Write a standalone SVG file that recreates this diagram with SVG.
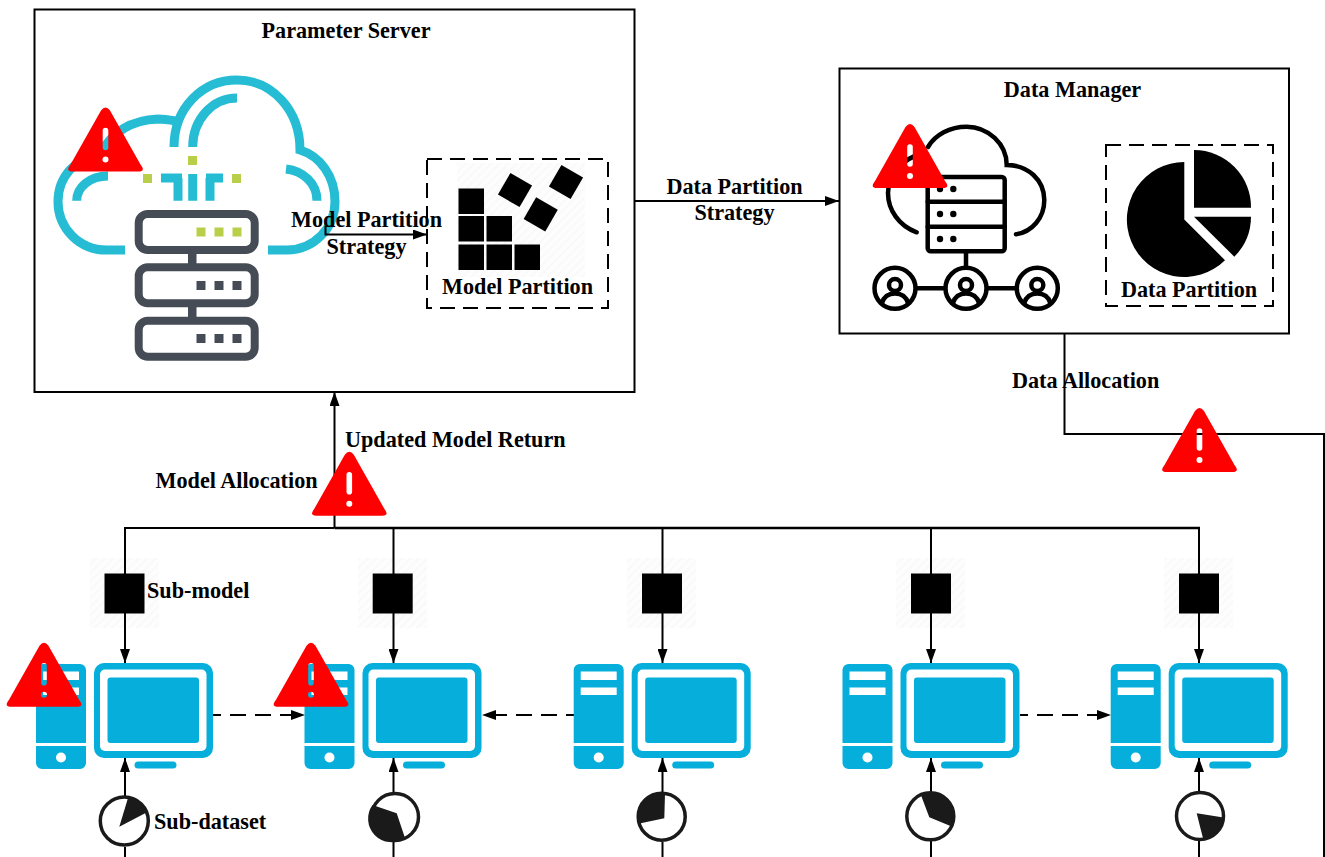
<svg xmlns="http://www.w3.org/2000/svg" xmlns:xlink="http://www.w3.org/1999/xlink" width="1325" height="857" viewBox="0 0 1325 857">
<style>
text{font-family:"Liberation Serif","Times New Roman",serif;font-weight:700;font-size:22.200px;fill:#000}
.mid{text-anchor:middle}
.box{fill:#fff;stroke:#000;stroke-width:2}
.dash{fill:none;stroke:#000;stroke-width:2;stroke-dasharray:15 8}
.line{fill:none;stroke:#000;stroke-width:2}
.teal{fill:none;stroke:#25bcd4;stroke-width:9}
.srv{fill:#fff;stroke:#454c55;stroke-width:8}
.dark{fill:#454c55}
.green{fill:#b9cf4a}
.k{fill:none;stroke:#000;stroke-width:4.500;stroke-linecap:round}
.warn{fill:#f00;fill-rule:evenodd}
.blue{fill:#05aedb}
.wh{fill:#fff}
.sq{fill:#000}
.hatch{fill:url(#h)}
.disc{fill:#fff;stroke:#1a1a1a;stroke-width:3.500}
.pie{fill:#1a1a1a}
</style>
<defs>
<marker id="a" markerUnits="userSpaceOnUse" markerWidth="14" markerHeight="10" refX="14" refY="5" orient="auto"><path d="M0,0L14,5L0,10z" fill="#000"/></marker>
<pattern id="h" width="6" height="6" patternUnits="userSpaceOnUse" patternTransform="rotate(45)"><rect width="6" height="6" fill="#fdfdfd"/><rect width="2" height="6" fill="#f9f9f9"/></pattern>
<path id="w" d="M-4.500,3Q0,-3 4.500,3L35,57Q40.500,64 33,64L-33,64Q-40.500,64 -35,57ZM-2.800,23a2.800,2.800 0 0 1 5.600,0v17a2.800,2.800 0 0 1 -5.600,0ZM-3,52a3,3 0 1 0 6,0a3,3 0 1 0 -6,0Z"/>
<g id="pc">
<path class="blue" d="M42,664H80a6,6 0 0 1 6,6V743H36V670a6,6 0 0 1 6,-6ZM36,746H86V763a6,6 0 0 1 -6,6H42a6,6 0 0 1 -6,-6Z"/>
<rect class="wh" x="43" y="671.500" width="36" height="8.500"/>
<rect class="wh" x="43" y="687.500" width="36" height="7.500"/>
<circle class="wh" cx="61" cy="757.500" r="5"/>
<rect class="blue" x="94" y="663" width="119" height="95" rx="10"/>
<rect class="wh" x="100" y="669.500" width="106.500" height="81.500" rx="5"/>
<rect class="blue" x="107.500" y="677.500" width="91.500" height="65.500" rx="3"/>
<rect class="blue" x="134.500" y="761.500" width="42" height="7" rx="3.500"/>
</g>
</defs>
<rect width="1325" height="857" fill="#fff"/>

<g id="parameter-server">
<rect class="box" x="34.500" y="9.500" width="600" height="382.500"/>
<text class="mid" x="346" y="38">Parameter Server</text>
<path class="teal" d="M125,250H106.700C79,250 58,228 58,201.700C58,176 76,158 100,154C112,132 132,120 158,119C164,119 170,120 176,121"/>
<path class="teal" d="M174,147C174,108 202,80 237,80C272,80 300,110 300,150C320,156 335,176 335,201.700C335,228 314,250 287,250H268"/>
<path class="teal" d="M192.700,147C192.700,120 212,98 237,98M76.700,200.700C76.700,187 90,176 108,176M286,169C303,171 317,183 317,200.700"/>
<path class="teal" d="M161,178H182M178,178V200.700M192.700,174V200.700M206,178H223M210,178V200.700"/>
<rect class="green" x="188" y="156" width="9" height="9"/>
<rect class="green" x="143" y="174" width="9" height="9"/>
<rect class="green" x="232" y="174" width="9" height="9"/>
<rect class="dark" x="188" y="250" width="8.500" height="17"/>
<rect class="dark" x="188" y="303" width="8.500" height="17"/>
<rect class="srv" x="138.700" y="214" width="116" height="36" rx="9"/>
<rect class="srv" x="138.700" y="267.300" width="116" height="36" rx="9"/>
<rect class="srv" x="138.700" y="320.700" width="116" height="36" rx="9"/>
<rect class="green" x="196.500" y="227.500" width="9" height="9"/><rect class="green" x="214.500" y="227.500" width="9" height="9"/><rect class="green" x="232.500" y="227.500" width="9" height="9"/>
<rect class="dark" x="196.500" y="281" width="9" height="9"/><rect class="dark" x="214.500" y="281" width="9" height="9"/><rect class="dark" x="232.500" y="281" width="9" height="9"/>
<rect class="dark" x="196.500" y="334" width="9" height="9"/><rect class="dark" x="214.500" y="334" width="9" height="9"/><rect class="dark" x="232.500" y="334" width="9" height="9"/>
</g>

<g id="model-partition">
<rect class="dash" x="427" y="159" width="181" height="149"/>
<rect class="hatch" x="457" y="163" width="128" height="114"/>
<rect class="sq" x="458.500" y="188.500" width="25.500" height="25.500"/>
<rect class="sq" x="458.500" y="216" width="25.500" height="25.500"/>
<rect class="sq" x="486.500" y="216" width="25.500" height="25.500"/>
<rect class="sq" x="458.500" y="244.500" width="25.500" height="25.500"/>
<rect class="sq" x="486.500" y="244.500" width="25.500" height="25.500"/>
<rect class="sq" x="514.500" y="244.500" width="25.500" height="25.500"/>
<rect class="sq" x="-12.500" y="-12.500" width="25" height="25" transform="translate(515 190) rotate(30)"/>
<rect class="sq" x="-12.500" y="-12.500" width="25" height="25" transform="translate(566 182) rotate(30)"/>
<rect class="sq" x="-12.500" y="-12.500" width="25" height="25" transform="translate(540.700 214.300) rotate(30)"/>
<text class="mid" x="517.500" y="293.500">Model Partition</text>
</g>

<g id="data-manager">
<rect class="box" x="839.500" y="68.500" width="449.500" height="265"/>
<text class="mid" x="1072.500" y="97">Data Manager</text>
<path class="k" d="M916.700,232.300C899,226 888,210 888,193C888,174 900,160 925,152"/>
<path class="k" d="M928,147C935,135 950,126.700 966.700,126.700C988,126.700 1006.700,144 1006.700,165C1028,165 1044.300,180 1044.300,200C1044.300,218 1032,232 1016,234.300"/>
<rect class="k" x="927.700" y="177" width="77" height="74.300" rx="3"/>
<path class="k" d="M927.700,201.700H1004.700M927.700,226.700H1004.700M966,253V267M917,288.300H944M988,288.300H1015"/>
<g fill="#000">
<circle cx="940" cy="189" r="3.200"/><circle cx="953.300" cy="189" r="3.200"/>
<circle cx="940" cy="214" r="3.200"/><circle cx="953.300" cy="214" r="3.200"/>
<circle cx="940" cy="239" r="3.200"/><circle cx="953.300" cy="239" r="3.200"/>
</g>
<g fill="none" stroke="#000" stroke-width="4.500">
<circle cx="895" cy="288.300" r="20.500"/><circle cx="966" cy="288.300" r="20.500"/><circle cx="1037.300" cy="288.300" r="20.500"/>
<circle cx="895" cy="285" r="6"/><circle cx="966" cy="285" r="6"/><circle cx="1037.300" cy="285" r="6"/>
<path d="M882,303C884,296 889,293.500 895,293.500C901,293.500 906,296 908,303M953,303C955,296 960,293.500 966,293.500C972,293.500 977,296 979,303M1024.300,303C1026.300,296 1031.300,293.500 1037.300,293.500C1043.300,293.500 1048.300,296 1050.300,303"/>
</g>
</g>

<g id="data-partition">
<rect class="dash" x="1106" y="145" width="167" height="161"/>
<path class="sq" d="M1184.300,162V219.500L1225,260.200A57.500,57.500 0 1 1 1184.300,162Z"/>
<path class="sq" d="M1194,207.700V150A57,57 0 0 1 1251,207.700Z"/>
<path class="sq" d="M1194,216.700H1251A57,57 0 0 1 1234.300,256.700Z"/>
<text class="mid" x="1189" y="296.500">Data Partition</text>
</g>

<g id="submodel-1"><rect class="hatch" x="90" y="558" width="69" height="70"/><rect class="sq" x="104.500" y="573.500" width="40" height="40"/></g>
<g id="submodel-2"><rect class="hatch" x="358" y="558" width="69" height="70"/><rect class="sq" x="372.700" y="573.500" width="40" height="40"/></g>
<g id="submodel-3"><rect class="hatch" x="627" y="558" width="69" height="70"/><rect class="sq" x="642" y="573.500" width="40" height="40"/></g>
<g id="submodel-4"><rect class="hatch" x="896" y="558" width="69" height="70"/><rect class="sq" x="911" y="573.500" width="40" height="40"/></g>
<g id="submodel-5"><rect class="hatch" x="1164" y="558" width="69" height="70"/><rect class="sq" x="1179" y="573.500" width="40" height="40"/></g>

<g id="connectors">
<path class="line" d="M325.500,226V234.500H427" marker-end="url(#a)"/>
<path class="line" d="M635,201H839" marker-end="url(#a)"/>
<path class="line" d="M1064.500,334V434H1324V857"/>
<path class="line" d="M334.500,528V392" marker-end="url(#a)"/>
<path class="line" d="M125,528H334.500"/>
<path class="line" d="M125,527V663" marker-end="url(#a)"/>
<path class="line" style="stroke-width:2.500" d="M334.500,528H1200"/>
<path class="line" d="M393.500,528V663" marker-end="url(#a)"/>
<path class="line" d="M662.500,528V663" marker-end="url(#a)"/>
<path class="line" d="M931,528V663" marker-end="url(#a)"/>
<path class="line" d="M1199,528V663" marker-end="url(#a)"/>
<path class="line" d="M125,796V758" marker-end="url(#a)"/>
<path class="line" d="M393.500,792V758" marker-end="url(#a)"/>
<path class="line" d="M662.500,792V758" marker-end="url(#a)"/>
<path class="line" d="M931,792V758" marker-end="url(#a)"/>
<path class="line" d="M1199,791V758" marker-end="url(#a)"/>
<path class="line" d="M125,847V857M393.500,842V857M662.500,842V857M931,841V857M1199,841V857"/>
<path class="line" stroke-dasharray="16 9" stroke-dashoffset="8" d="M213,715H305" marker-end="url(#a)"/>
<path class="line" stroke-dasharray="16 9" stroke-dashoffset="8" d="M574,715H482" marker-end="url(#a)"/>
<path class="line" stroke-dasharray="16 9" stroke-dashoffset="8" d="M1020,715H1111" marker-end="url(#a)"/>
</g>

<g id="connector-labels">
<text class="mid" x="366.500" y="226.500">Model Partition</text>
<text class="mid" x="366.500" y="254">Strategy</text>
<text class="mid" x="734.500" y="193.500">Data Partition</text>
<text class="mid" x="734.500" y="220">Strategy</text>
<text x="1012" y="388">Data Allocation</text>
<text x="345" y="446.500">Updated Model Return</text>
<text x="155.500" y="487.500">Model Allocation</text>
<text x="147" y="597.500">Sub-model</text>
<text x="154" y="828.500">Sub-dataset</text>
</g>

<g id="worker-1"><use xlink:href="#pc" href="#pc"/></g>
<g id="worker-2"><use xlink:href="#pc" href="#pc" x="268.500"/></g>
<g id="worker-3"><use xlink:href="#pc" href="#pc" x="537.700"/></g>
<g id="worker-4"><use xlink:href="#pc" href="#pc" x="806.500"/></g>
<g id="worker-5"><use xlink:href="#pc" href="#pc" x="1074.700"/></g>

<g id="subdataset-1"><circle class="disc" cx="124.300" cy="821" r="24"/><path class="pie" d="M119.300,826.700L128.300,797A24,24 0 0 1 147.500,812Z"/></g>
<g id="subdataset-2"><circle class="disc" cx="395" cy="817" r="23.500"/><path class="pie" d="M396.700,813.300L372.500,805A23.500,23.500 0 0 0 405,838Z"/></g>
<g id="subdataset-3"><circle class="disc" cx="661.700" cy="816.700" r="23.500"/><path class="pie" d="M664.300,818.300L665,793.500A23.500,23.500 0 0 0 639.500,823.500Z"/></g>
<g id="subdataset-4"><circle class="disc" cx="930.300" cy="816.300" r="23.500"/><path class="pie" d="M929.300,817.300L920.700,794.500A23.500,23.500 0 0 1 951.700,826.500Z"/></g>
<g id="subdataset-5"><circle class="disc" cx="1200" cy="816" r="23.500"/><path class="pie" d="M1196.700,813.300L1223.500,817.500A23.500,23.500 0 0 1 1203.300,839.500Z"/></g>

<g id="warnings">
<use class="warn" xlink:href="#w" href="#w" x="105.500" y="107.500"/>
<use class="warn" xlink:href="#w" href="#w" x="349.300" y="451.700"/>
<use class="warn" xlink:href="#w" href="#w" x="910" y="124"/>
<use class="warn" xlink:href="#w" href="#w" x="1199.500" y="408"/>
<use class="warn" xlink:href="#w" href="#w" x="44" y="642.700"/>
<use class="warn" xlink:href="#w" href="#w" x="311" y="642.700"/>
</g>
</svg>
